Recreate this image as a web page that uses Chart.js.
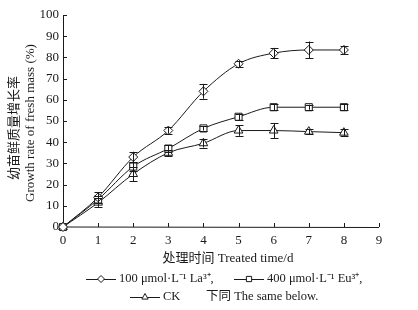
<!DOCTYPE html>
<html><head><meta charset="utf-8">
<script src="https://cdn.jsdelivr.net/npm/chart.js@4"></script>
<style>html,body{margin:0;padding:0;background:#fff}#wrap{width:418px;height:310px}</style>
</head><body><div id="wrap"><canvas id="c" width="418" height="310"></canvas></div>
<script>
const days = [0,1,2,3,4,5,6,7,8];
const laValues = [0,14,33,45.5,64,77,82,83.5,83.5];
const laErrors = [0,2.5,2.5,1.5,3.5,1.5,2.5,4,2];
const euValues = [0,13,28.5,37,46.5,52,56.5,56.5,56.5];
const euErrors = [0,1.5,2,1.5,1,1.5,1.5,1.2,1.5];
const ckValues = [0,11.5,25,35,39.5,45.5,45.5,45,44.5];
const ckErrors = [0,2,3.5,1.5,2,2.5,3.5,1.2,1.5];
const yTicks = [0,10,20,30,40,50,60,70,80,90,100];
const xTicks = [0,1,2,3,4,5,6,7,8,9];
const seriesNames = ['100 μmol·L⁻¹ La³⁺,','400 μmol·L⁻¹ Eu³⁺,','CK'];
const yTitleLines = ['幼苗鲜质量增长率','Growth rate of fresh mass (%)'];
const xTitle = '处理时间 Treated time/d';
const noteText = '下同 The same below.';

const FONT = '"Liberation Serif","Noto Sans CJK SC",serif';
const INK = '#1a1a1a';

function mk(vals){ return vals.map((v,i)=>({x:days[i],y:v})); }
const errs = [laErrors, euErrors, ckErrors];

const errorBars = {
  id:'errorBars',
  afterDatasetsDraw(chart){
    const ctx = chart.ctx, xs = chart.scales.x, ys = chart.scales.y;
    ctx.save(); ctx.strokeStyle = INK; ctx.lineWidth = 1;
    chart.data.datasets.forEach((ds,di)=>{
      ds.data.forEach((p,i)=>{
        const e = errs[di][i]; if(!e) return;
        const x = Math.round(xs.getPixelForValue(p.x))+0.5;
        const y1 = ys.getPixelForValue(p.y+e), y2 = ys.getPixelForValue(p.y-e);
        ctx.beginPath();
        ctx.moveTo(x,y1); ctx.lineTo(x,y2);
        ctx.moveTo(x-4,Math.round(y1)+0.5); ctx.lineTo(x+4,Math.round(y1)+0.5);
        ctx.moveTo(x-4,Math.round(y2)+0.5); ctx.lineTo(x+4,Math.round(y2)+0.5);
        ctx.stroke();
      });
    });
    ctx.restore();
  }
};

function drawMarker(ctx, style, x, y, r){
  ctx.beginPath();
  if(style==='rectRot'){ ctx.moveTo(x,y-r); ctx.lineTo(x+r,y); ctx.lineTo(x,y+r); ctx.lineTo(x-r,y); ctx.closePath(); }
  else if(style==='rect'){ const s=r*0.75; ctx.rect(x-s,y-s,2*s,2*s); }
  else { ctx.moveTo(x,y-r); ctx.lineTo(x+r*0.9,y+r*0.6); ctx.lineTo(x-r*0.9,y+r*0.6); ctx.closePath(); }
  ctx.fillStyle='#fff'; ctx.fill(); ctx.stroke();
}

const decor = {
  id:'decor',
  beforeDatasetsDraw(chart){
    const ctx = chart.ctx, xs = chart.scales.x, ys = chart.scales.y;
    const left = xs.left, bottom = ys.bottom;
    ctx.save();
    ctx.strokeStyle = INK; ctx.lineWidth = 1;
    ctx.beginPath();
    ctx.moveTo(Math.round(left)+0.5, ys.top); ctx.lineTo(Math.round(left)+0.5, bottom);
    ctx.lineTo(xs.right, Math.round(bottom)+0.5);
    ctx.stroke();
    ctx.beginPath();
    yTicks.forEach(v=>{ const y=Math.round(ys.getPixelForValue(v))+0.5; ctx.moveTo(left,y); ctx.lineTo(left+4,y); });
    xTicks.forEach(v=>{ const x=Math.round(xs.getPixelForValue(v))+0.5; ctx.moveTo(x,bottom); ctx.lineTo(x,bottom-4); });
    ctx.stroke();
    ctx.restore();
  },
  afterDraw(chart){
    const ctx = chart.ctx, xs = chart.scales.x, ys = chart.scales.y;
    const left = xs.left, bottom = ys.bottom;
    ctx.save();
    ctx.strokeStyle = INK; ctx.fillStyle = INK; ctx.lineWidth = 1;
    ctx.font = '13px '+FONT;
    ctx.textAlign='right'; ctx.textBaseline='middle';
    yTicks.forEach(v=>{ ctx.fillText(String(v), left-4, ys.getPixelForValue(v)); });
    ctx.textAlign='center'; ctx.textBaseline='top';
    xTicks.forEach(v=>{ ctx.fillText(String(v), xs.getPixelForValue(v), bottom+7); });
    ctx.fillText(xTitle, 228, 252);
    ctx.save();
    ctx.translate(15, 128); ctx.rotate(-Math.PI/2);
    ctx.textBaseline='middle'; ctx.textAlign='center';
    ctx.fillText(yTitleLines[0], 0, 0);
    ctx.fillText(yTitleLines[1], 5, 16);
    ctx.restore();
    ctx.font = '12.5px '+FONT;
    ctx.textAlign='left'; ctx.textBaseline='middle';
    const styles = ['rectRot','rect','triangle'];
    const items = [{x:86,y:279},{x:234,y:279},{x:130,y:297}];
    items.forEach((it,i)=>{
      ctx.beginPath(); ctx.moveTo(it.x,it.y+0.5); ctx.lineTo(it.x+30,it.y+0.5); ctx.stroke();
      drawMarker(ctx, styles[i], it.x+15, it.y, 3.5);
      ctx.fillStyle = INK;
      ctx.fillText(seriesNames[i], it.x+33, it.y);
    });
    ctx.fillText(noteText, 206, 297);
    ctx.restore();
  }
};

const common = {borderColor:INK, borderWidth:1, pointBorderColor:INK, pointBackgroundColor:'#fff',
  pointBorderWidth:1, cubicInterpolationMode:'monotone', fill:false, clip:false};

new Chart(document.getElementById('c'), {
  type:'line',
  data:{datasets:[
    Object.assign({label:seriesNames[0], data:mk(laValues), pointStyle:'rectRot', pointRadius:4.5},common),
    Object.assign({label:seriesNames[1], data:mk(euValues), pointStyle:'rect', pointRadius:5},common),
    Object.assign({label:seriesNames[2], data:mk(ckValues), pointStyle:'triangle', pointRadius:5},common)
  ]},
  options:{
    responsive:false, animation:false, devicePixelRatio:1,
    layout:{padding:{left:0,right:39,top:15,bottom:0}},
    plugins:{legend:{display:false}, tooltip:{enabled:false}},
    scales:{
      x:{type:'linear', min:0, max:9, grid:{display:false}, border:{display:false},
         ticks:{display:false}, afterFit(s){ s.height = 83; }},
      y:{type:'linear', min:0, max:100, grid:{display:false}, border:{display:false},
         ticks:{display:false}, afterFit(s){ s.width = 63; }}
    }
  },
  plugins:[errorBars, decor]
});
</script></body></html>
